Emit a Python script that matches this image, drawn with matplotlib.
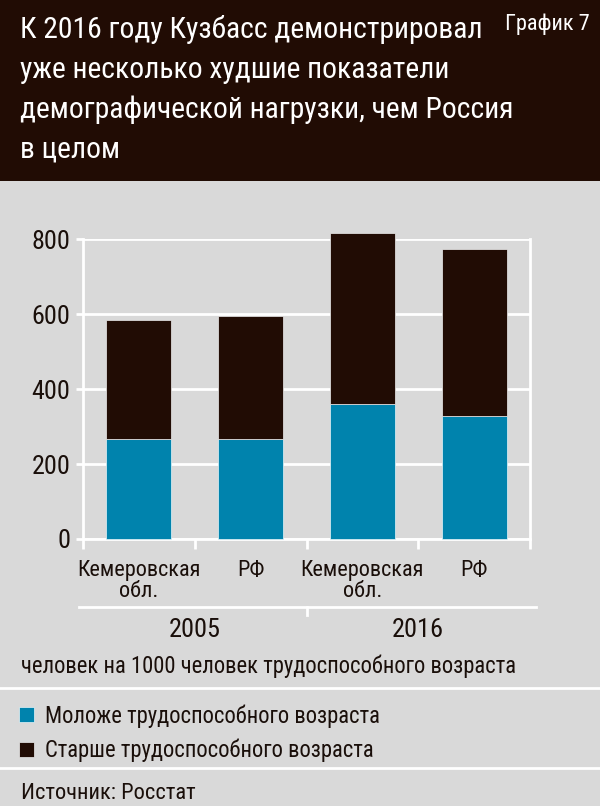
import matplotlib
matplotlib.use('Agg')
import matplotlib.pyplot as plt
from matplotlib import font_manager
from matplotlib.patches import Rectangle
from matplotlib.lines import Line2D
from matplotlib.transforms import blended_transform_factory
import numpy as np

# data
categories = ['Кемеровская\nобл.', 'РФ', 'Кемеровская\nобл.', 'РФ']
years = ['2005', '2016']
younger = [267, 267, 359, 329]
older = [316, 329, 456, 445]   # stacked on top of younger
series_names = ['Моложе трудоспособного возраста', 'Старше трудоспособного возраста']
yticks = [0, 200, 400, 600, 800]

title_lines = ['К 2016 году Кузбасс демонстрировал',
               'уже несколько худшие показатели',
               'демографической нагрузки, чем Россия',
               'в целом']
units = 'человек на 1000 человек трудоспособного возраста'
source = 'Источник: Росстат'
chart_no = 'График 7'

# pick a condensed font if there is one
have = {f.name for f in font_manager.fontManager.ttflist}
for name in ['Liberation Sans Narrow', 'DejaVu Sans Condensed', 'Roboto Condensed', 'Liberation Sans']:
    if name in have:
        font = name
        break
else:
    font = 'DejaVu Sans'
plt.rcParams['font.family'] = [font, 'DejaVu Sans']

DARK = '#210c04'
BLUE = '#0083ad'
GRAY = '#d9d9d9'
TXT = '#1a0f0a'

W, H = 600, 806
fig = plt.figure(figsize=(W / 100, H / 100), dpi=100, facecolor=GRAY)

def fy(py):
    return 1 - py / H

# header band
fig.patches.append(Rectangle((0, fy(181)), 1, 181 / H, transform=fig.transFigure,
                             facecolor=DARK, edgecolor='none', zorder=0))
for i, line in enumerate(title_lines):
    fig.text(20 / W, fy(38 + 40 * i), line, color='white', fontsize=21.3, va='baseline', ha='left')
fig.text(590 / W, fy(30), chart_no, color='white', fontsize=16, va='baseline', ha='right')

# chart
ax = fig.add_axes([83 / W, fy(539), (530 - 83) / W, (539 - 239) / H])
ax.set_facecolor(GRAY)
x = np.arange(len(categories))
b1 = ax.bar(x, younger, width=0.58, color=BLUE, edgecolor='#e6f4f8', linewidth=0.5,
            label=series_names[0], clip_on=False, zorder=3)
b2 = ax.bar(x, older, width=0.58, bottom=younger, color=DARK, edgecolor='#eeeeee', linewidth=0.5,
            label=series_names[1], clip_on=False, zorder=3)
ax.set_xlim(-0.5, len(categories) - 0.5)
ax.set_ylim(0, 800)
ax.set_yticks(yticks)
ax.set_yticklabels([str(v) for v in yticks], fontsize=18.8, color=TXT)
ax.yaxis.grid(True, color='white', linewidth=2)
ax.set_axisbelow(True)
ax.spines['top'].set_visible(False)
for s in ['left', 'right', 'bottom']:
    ax.spines[s].set_color('white')
    ax.spines[s].set_linewidth(2)
ax.tick_params(axis='y', length=5, width=2, color='white', pad=4)
ax.set_xticks(x)
ax.set_xticklabels(categories, fontsize=16, color=TXT)
for t in ax.get_xticklabels():
    t.set_linespacing(0.98)
ax.tick_params(axis='x', which='major', length=0, pad=15)
ax.set_xticks(np.arange(-0.5, len(categories)), minor=True)
ax.tick_params(axis='x', which='minor', length=7, width=2, color='white')

# year groups below the categories
tr = blended_transform_factory(ax.transData, fig.transFigure)
fig.lines.append(Line2D([-0.54, 3.55], [fy(607), fy(607)], transform=tr, color='white', lw=2))
fig.lines.append(Line2D([1.5, 1.5], [fy(607), fy(615)], transform=tr, color='white', lw=2))
for i, yr in enumerate(years):
    fig.text(2 * i + 0.5, fy(637), yr, transform=tr, fontsize=19, color=TXT, ha='center', va='baseline')

fig.text(21 / W, fy(673), units, fontsize=16.3, color=TXT, va='baseline')
fig.lines.append(Line2D([0, 1], [fy(688), fy(688)], transform=fig.transFigure, color='white', lw=2))

leg = fig.legend(handles=[b1, b2], loc='upper left', bbox_to_anchor=(19 / W, fy(704)),
                 frameon=False, fontsize=16.3, handlelength=0.66, handleheight=0.66,
                 handletextpad=0.5, labelspacing=0.5, borderaxespad=0, borderpad=0)
for t in leg.get_texts():
    t.set_color(TXT)

fig.lines.append(Line2D([0, 1], [fy(768), fy(768)], transform=fig.transFigure, color='white', lw=2))
fig.text(21 / W, fy(799), source, fontsize=16.2, color=TXT, va='baseline')

fig.savefig('out.png', dpi=100, facecolor=GRAY)
